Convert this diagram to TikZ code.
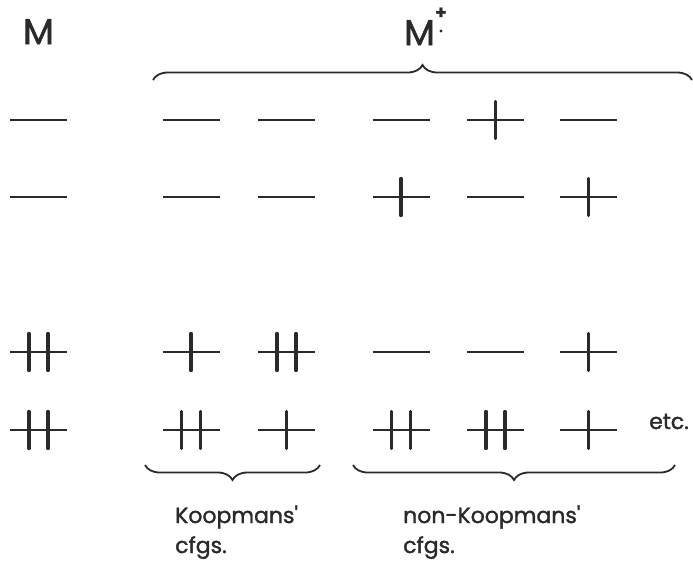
\documentclass[tikz,border=0pt]{standalone}
\usepackage{fontspec}
\setmainfont{Poppins}
\newfontfamily\popheavy{Poppins}[FakeBold=1.5]
\usetikzlibrary{decorations.pathreplacing}
\definecolor{ink}{HTML}{2A2A2A}
\tikzset{
  lvl/.style={line width=2.1pt, color=ink},
  spin/.style={line width=3.3pt, line cap=round, color=ink},
  brc/.style={decorate, decoration={brace, amplitude=15pt}, line width=1.8pt, color=ink},
  lbl/.style={text=ink, inner sep=0pt, font=\popheavy\fontsize{22}{26}\selectfont},
  big/.style={text=ink, inner sep=0pt, font=\popheavy\fontsize{36}{40}\selectfont},
  pics/empty/.style={code={\draw[lvl] (-28.5,0) -- (28.5,0);}},
  pics/single/.style={code={\draw[lvl] (-28.5,0) -- (28.5,0);
      \draw[spin] (0,-18.5) -- (0,18.5);}},
  pics/double/.style={code={\draw[lvl] (-28.5,0) -- (28.5,0);
      \draw[spin] (-9.5,-18.5) -- (-9.5,18.5);
      \draw[spin] (9.5,-18.5) -- (9.5,18.5);}},
}
\begin{document}
\begin{tikzpicture}[x=1pt, y=-1pt]
\useasboundingbox (0,0) rectangle (693,563);
% column centres
\def\cM{38.5}\def\cKa{191}\def\cKb{286.5}\def\cNa{401}\def\cNb{495.5}\def\cNc{588.5}
% row heights
\def\rA{120}\def\rB{197}\def\rC{352}\def\rD{430}
% titles
\node[big, anchor=base] (tM) at (\cM,44) {M};
\node[big, anchor=base] (tMp) at (419.5,45) {M};
\node[text=ink, inner sep=0pt, font=\fontsize{19}{19}\selectfont\bfseries] (plus) at (441,14) {+};
\fill[ink] (441,31) circle (1.7pt) coordinate (dot);
% top brace
\coordinate (tb1) at (153,80);
\coordinate (tb2) at (692,80);
\draw[brc] (tb1) -- (tb2);
% row 1
\pic (a1) at (\cM,\rA) {empty};
\pic (a2) at (\cKa,\rA) {empty};
\pic (a3) at (\cKb,\rA) {empty};
\pic (a4) at (\cNa,\rA) {empty};
\pic (a5) at (\cNb,\rA) {single};
\pic (a6) at (\cNc,\rA) {empty};
% row 2
\pic (b1) at (\cM,\rB) {empty};
\pic (b2) at (\cKa,\rB) {empty};
\pic (b3) at (\cKb,\rB) {empty};
\pic (b4) at (\cNa,\rB) {single};
\pic (b5) at (\cNb,\rB) {empty};
\pic (b6) at (\cNc,\rB) {single};
% row 3
\pic (c1) at (\cM,\rC) {double};
\pic (c2) at (\cKa,\rC) {single};
\pic (c3) at (\cKb,\rC) {double};
\pic (c4) at (\cNa,\rC) {empty};
\pic (c5) at (\cNb,\rC) {empty};
\pic (c6) at (\cNc,\rC) {single};
% row 4
\pic (d1) at (\cM,\rD) {double};
\pic (d2) at (\cKa,\rD) {double};
\pic (d3) at (\cKb,\rD) {single};
\pic (d4) at (\cNa,\rD) {double};
\pic (d5) at (\cNb,\rD) {double};
\pic (d6) at (\cNc,\rD) {single};
\node[lbl, anchor=base west] (etc) at (649,429) {etc.};
% bottom braces
\coordinate (kb1) at (145,465);
\coordinate (kb2) at (320,465);
\coordinate (nb1) at (353,465);
\coordinate (nb2) at (675,465);
\draw[brc] (kb2) -- (kb1);
\draw[brc] (nb2) -- (nb1);
% labels
\node[lbl, anchor=base west] (k1) at (175,523) {Koopmans'};
\node[lbl, anchor=base west] (k2) at (175,553) {cfgs.};
\node[lbl, anchor=base west] (n1) at (403,523) {non-Koopmans'};
\node[lbl, anchor=base west] (n2) at (403,553) {cfgs.};
\end{tikzpicture}
\end{document}
